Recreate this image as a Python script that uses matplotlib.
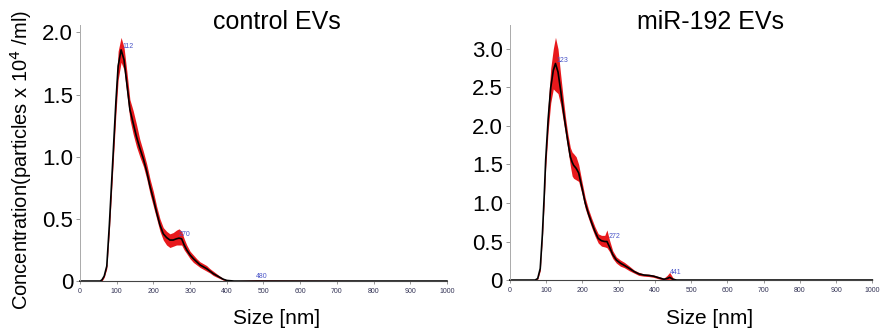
import matplotlib.pyplot as plt

plt.rcParams["font.family"] = ["Liberation Sans", "DejaVu Sans"]

# control EVs: size (nm), mean concentration and band limits
ctrl_size = [0, 55, 60, 66, 73, 80, 91, 98, 104, 112, 120, 128, 136, 145, 154,
             163, 173, 182, 191, 200, 209, 218, 227, 236, 245, 254, 263, 270,
             277, 284, 291, 300, 309, 318, 327, 336, 345, 354, 363, 372, 381,
             390, 400, 420, 480, 1000]
ctrl_mean = [0, 0, 0.01, 0.04, 0.12, 0.45, 1.06, 1.45, 1.73, 1.86, 1.78, 1.58,
             1.38, 1.27, 1.16, 1.07, 0.98, 0.88, 0.76, 0.66, 0.55, 0.45, 0.38,
             0.35, 0.33, 0.33, 0.34, 0.345, 0.34, 0.29, 0.25, 0.21, 0.18, 0.155,
             0.13, 0.115, 0.10, 0.08, 0.06, 0.045, 0.03, 0.015, 0.005, 0, 0, 0]
ctrl_low = [0, 0, 0.0, 0.03, 0.10, 0.40, 0.98, 1.35, 1.62, 1.76, 1.70, 1.50,
            1.30, 1.18, 1.08, 1.00, 0.92, 0.82, 0.70, 0.60, 0.50, 0.40, 0.33,
            0.29, 0.27, 0.28, 0.29, 0.29, 0.29, 0.25, 0.22, 0.18, 0.15, 0.13,
            0.11, 0.095, 0.08, 0.065, 0.045, 0.032, 0.02, 0.008, 0, 0, 0, 0]
ctrl_high = [0, 0, 0.02, 0.05, 0.14, 0.50, 1.13, 1.55, 1.85, 1.96, 1.88, 1.68,
             1.46, 1.37, 1.26, 1.14, 1.04, 0.94, 0.82, 0.72, 0.60, 0.50, 0.43,
             0.40, 0.38, 0.39, 0.41, 0.42, 0.40, 0.34, 0.29, 0.24, 0.21, 0.18,
             0.155, 0.14, 0.125, 0.10, 0.08, 0.06, 0.04, 0.022, 0.01, 0.003,
             0.01, 0]

# miR-192 EVs
mir_size = [0, 70, 77, 84, 90, 95, 99, 106, 113, 120, 126, 133, 140, 147, 154,
            160, 167, 172, 176, 183, 190, 199, 208, 217, 226, 235, 244, 253,
            262, 268, 275, 284, 294, 305, 316, 330, 343, 356, 370, 384, 397,
            411, 425, 434, 441, 450, 460, 1000]
mir_mean = [0, 0, 0.02, 0.15, 0.60, 1.10, 1.56, 2.10, 2.50, 2.72, 2.81, 2.70,
            2.47, 2.22, 1.99, 1.80, 1.60, 1.53, 1.49, 1.45, 1.39, 1.20, 1.00,
            0.86, 0.74, 0.63, 0.54, 0.51, 0.50, 0.50, 0.43, 0.33, 0.26, 0.22,
            0.19, 0.15, 0.11, 0.08, 0.065, 0.06, 0.05, 0.03, 0.01, 0.02, 0.035,
            0.01, 0, 0]
mir_low = [0, 0, 0.01, 0.12, 0.55, 1.02, 1.45, 1.95, 2.30, 2.48, 2.45, 2.42,
           2.28, 2.08, 1.88, 1.70, 1.48, 1.35, 1.32, 1.30, 1.28, 1.12, 0.93,
           0.80, 0.68, 0.57, 0.48, 0.44, 0.43, 0.42, 0.37, 0.28, 0.22, 0.18,
           0.16, 0.12, 0.09, 0.06, 0.05, 0.045, 0.035, 0.015, 0, 0.005, 0.01,
           0, 0, 0]
mir_high = [0, 0, 0.03, 0.18, 0.66, 1.18, 1.68, 2.28, 2.75, 3.00, 3.15, 3.00,
            2.68, 2.38, 2.10, 1.90, 1.72, 1.66, 1.64, 1.60, 1.50, 1.28, 1.07,
            0.92, 0.80, 0.69, 0.60, 0.58, 0.58, 0.65, 0.52, 0.38, 0.30, 0.26,
            0.23, 0.18, 0.13, 0.10, 0.08, 0.075, 0.065, 0.045, 0.025, 0.06,
            0.10, 0.03, 0.005, 0]

panels = [
    ("control EVs", ctrl_size, ctrl_mean, ctrl_low, ctrl_high,
     [0, 0.5, 1.0, 1.5, 2.0], ["0", "0.5", "1.0", "1.5", "2.0"], 2.06,
     [("112", 115, 1.86), ("270", 270, 0.35), ("480", 480, 0.01)]),
    ("miR-192 EVs", mir_size, mir_mean, mir_low, mir_high,
     [0, 0.5, 1.0, 1.5, 2.0, 2.5, 3.0],
     ["0", "0.5", "1.0", "1.5", "2.0", "2.5", "3.0"], 3.31,
     [("123", 128, 2.8), ("272", 272, 0.52), ("441", 441, 0.05)]),
]
xticks = list(range(0, 1001, 100))

fig = plt.figure(figsize=(8.82, 3.33), dpi=100)
boxes = [[0.0907, 0.156, 0.416, 0.769], [0.578, 0.159, 0.411, 0.766]]
title_x = [0.314, 0.805]

for box, tx, panel in zip(boxes, title_x, panels):
    title, size, mean, low, high, yt, ytl, ymax, peaks = panel
    ax = fig.add_axes(box)
    ax.fill_between(size, low, high, color="#e8191c", lw=0, clip_on=False)
    ax.plot(size, mean, color="black", lw=1.2, clip_on=False)
    for label, px, py in peaks:
        ax.text(px, py, label, color="#4a55c8", fontsize=5, va="bottom")
    ax.set_xlim(0, 1000)
    ax.set_ylim(0, ymax)
    ax.set_xticks(xticks)
    ax.set_xticklabels([str(t) for t in xticks], fontsize=5, color="#333355")
    ax.set_yticks(yt)
    ax.set_yticklabels(ytl, fontsize=16)
    ax.tick_params(axis="x", length=2, width=0.6, color="#888888", pad=3)
    ax.tick_params(axis="y", length=3, width=0.6, color="#888888", pad=2)
    for side in ["top", "right"]:
        ax.spines[side].set_visible(False)
    ax.spines["left"].set_color("#aaaaaa")
    ax.spines["bottom"].set_color("#444444")
    ax.spines["left"].set_linewidth(0.7)
    ax.spines["bottom"].set_linewidth(0.8)
    fig.text(tx, 0.935, title, ha="center", va="center", fontsize=18)
    fig.text(tx, 0.045, "Size [nm]", ha="center", va="center", fontsize=15)

fig.text(0.024, 0.52, "Concentration(particles x 10$^4$ /ml)", rotation=90,
         ha="center", va="center", fontsize=14.5)

plt.savefig("out.png", dpi=100)
